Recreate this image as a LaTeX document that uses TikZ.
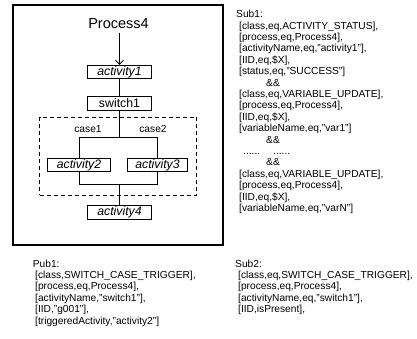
\documentclass[tikz,border=0pt]{standalone}
\usepackage{fontspec}
\setmainfont{Liberation Sans}
\usetikzlibrary{arrows.meta}
\begin{document}
\begin{tikzpicture}[x=1pt,y=-1pt,
  actbox/.style={draw, line width=0.8pt, minimum width=64pt, minimum height=13.5pt, inner sep=0pt, font=\fontsize{12.3}{14}\selectfont\itshape},
  swbox/.style={actbox, font=\fontsize{12.3}{14}\selectfont},
  conn/.style={line width=0.8pt},
  casetxt/.style={inner sep=0pt, font=\fontsize{10.2}{11.4}\selectfont},
  txt/.style={inner sep=0pt, anchor=base west, font=\fontsize{10.2}{11.4}\selectfont},
]
\useasboundingbox (0,0) rectangle (417,339);
% process frame
\draw[line width=2pt] (12.7,5) rectangle (222.7,245);
\node[font=\fontsize{14.5}{16}\selectfont, inner sep=0pt] (title) at (118.5,24) {Process4};
% nodes
\coordinate (start) at (119.5,33);
\node[actbox] (a1) at (119.5,72) {activity1};
\node[swbox] (sw) at (119.5,103.3) {switch1};
\node[draw, dashed, line width=0.8pt, dash pattern=on 4pt off 3pt, minimum width=157.2pt, minimum height=78pt, inner sep=0pt] (region) at (118.1,156) {};
\node[actbox, minimum width=63.4pt] (a2) at (79,165) {activity2};
\node[actbox, minimum width=60pt] (a3) at (157.5,165) {activity3};
\node[actbox] (a4) at (119.5,212.3) {activity4};
\node[casetxt] (c1) at (88,129) {case1};
\node[casetxt] (c2) at (153,129) {case2};
\coordinate (j1) at (119.5,137.7);
\coordinate (j2) at (119.5,184);
% connectors
\draw[conn, -{Straight Barb[length=4pt,width=8pt]}] (start) -- (a1.north);
\draw[conn] (a1.south) -- (sw.north);
\draw[conn] (sw.south) -- (j1);
\draw[conn] (a2.north) -- (a2.north |- j1) -- (a3.north |- j1) -- (a3.north);
\draw[conn] (a2.south) -- (a2.south |- j2) -- (a3.south |- j2) -- (a3.south);
\draw[conn] (j2) -- (a4.north);
% Sub1
\foreach \i/\xx/\t in {1/236/{Sub1:},
  2/239/{[class,eq,ACTIVITY\_STATUS],},
  3/239/{[process,eq,Process4],},
  4/239/{[activityName,eq,"activity1"],},
  5/239/{[IID,eq,\$X],},
  6/239/{[status,eq,"SUCCESS"]},
  7/266/{\&\&},
  8/239/{[class,eq,VARIABLE\_UPDATE],},
  9/239/{[process,eq,Process4],},
  10/239/{[IID,eq,\$X],},
  11/239/{[variableName,eq,"var1"]},
  12/266/{\&\&},
  13/243/{......},
  14/266/{\&\&},
  15/239/{[class,eq,VARIABLE\_UPDATE],},
  16/239/{[process,eq,Process4],},
  17/239/{[IID,eq,\$X],},
  18/239/{[variableName,eq,"varN"]}}
  \node[txt] (sub1-\i) at (\xx,{17.7+11.4*(\i-1)}) {\t};
\node[txt] (sub1-dots) at (273,{17.7+11.4*12}) {......};
% Pub1
\foreach \i/\xx/\t in {1/32.7/{Pub1:},
  2/35/{[class,SWITCH\_CASE\_TRIGGER],},
  3/35/{[process,eq,Process4],},
  4/35/{[activityName,"switch1"],},
  5/35/{[IID,"g001"],},
  6/35/{[triggeredActivity,"activity2"]}}
  \node[txt] (pub1-\i) at (\xx,{267+11.4*(\i-1)}) {\t};
% Sub2
\foreach \i/\xx/\t in {1/235/{Sub2:},
  2/238/{[class,eq,SWITCH\_CASE\_TRIGGER],},
  3/238/{[process,eq,Process4],},
  4/238/{[activityName,eq,"switch1"],},
  5/238/{[IID,isPresent],}}
  \node[txt] (sub2-\i) at (\xx,{267+11.4*(\i-1)}) {\t};
\end{tikzpicture}
\end{document}
